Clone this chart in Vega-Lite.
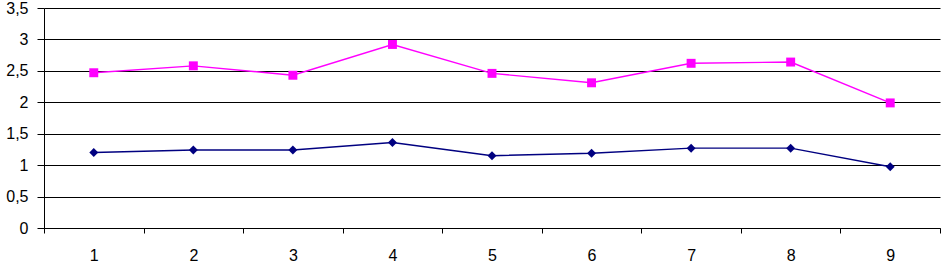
{
  "$schema": "https://vega.github.io/schema/vega-lite/v6.json",
  "width": 896,
  "height": 220,
  "autosize": "none",
  "padding": {"left": 44, "top": 8, "right": 2, "bottom": 36},
  "config": {
    "locale": {"number": {"decimal": ",", "thousands": ".", "grouping": [3], "currency": ["", " €"]}},
    "view": {"stroke": null},
    "font": "Liberation Sans",
    "axis": {"labelFont": "Liberation Sans", "labelColor": "#000000", "labelFontSize": 16, "domainColor": "#000000", "tickColor": "#000000", "gridColor": "#000000", "gridOpacity": 1, "domainWidth": 1, "tickWidth": 1, "gridWidth": 1, "title": null}
  },
  "data": {
    "values": [
      {"n": 1, "series": "A", "v": 1.20},
      {"n": 2, "series": "A", "v": 1.24},
      {"n": 3, "series": "A", "v": 1.24},
      {"n": 4, "series": "A", "v": 1.36},
      {"n": 5, "series": "A", "v": 1.15},
      {"n": 6, "series": "A", "v": 1.19},
      {"n": 7, "series": "A", "v": 1.27},
      {"n": 8, "series": "A", "v": 1.27},
      {"n": 9, "series": "A", "v": 0.975},
      {"n": 1, "series": "B", "v": 2.47},
      {"n": 2, "series": "B", "v": 2.58},
      {"n": 3, "series": "B", "v": 2.43},
      {"n": 4, "series": "B", "v": 2.92},
      {"n": 5, "series": "B", "v": 2.46},
      {"n": 6, "series": "B", "v": 2.31},
      {"n": 7, "series": "B", "v": 2.62},
      {"n": 8, "series": "B", "v": 2.64},
      {"n": 9, "series": "B", "v": 1.99}
    ]
  },
  "encoding": {
    "x": {
      "field": "n",
      "type": "quantitative",
      "scale": {"domain": [0.5, 9.5], "nice": false, "zero": false},
      "axis": {
        "values": [0.5, 1, 1.5, 2, 2.5, 3, 3.5, 4, 4.5, 5, 5.5, 6, 6.5, 7, 7.5, 8, 8.5, 9, 9.5],
        "grid": false,
        "tickSize": 5,
        "tickOpacity": {"condition": {"test": "datum.value % 1 === 0", "value": 0}, "value": 1},
        "labelExpr": "datum.value % 1 === 0 ? format(datum.value, 'd') : ''",
        "labelOverlap": false,
        "labelFlush": false,
        "labelPadding": 14
      }
    },
    "y": {
      "field": "v",
      "type": "quantitative",
      "scale": {"domain": [0, 3.5], "nice": false},
      "axis": {
        "values": [0, 0.5, 1, 1.5, 2, 2.5, 3, 3.5],
        "format": "~r",
        "grid": true,
        "tickSize": 7,
        "labelPadding": 9,
        "labelFlush": false
      }
    },
    "color": {"field": "series", "type": "nominal", "scale": {"domain": ["A", "B"], "range": ["#000080", "#FF00FF"]}, "legend": null},
    "shape": {"field": "series", "type": "nominal", "scale": {"domain": ["A", "B"], "range": ["diamond", "square"]}, "legend": null}
  },
  "layer": [
    {"mark": {"type": "line", "strokeWidth": 1.4}},
    {"mark": {"type": "point", "filled": true, "opacity": 1, "size": 80}}
  ]
}
